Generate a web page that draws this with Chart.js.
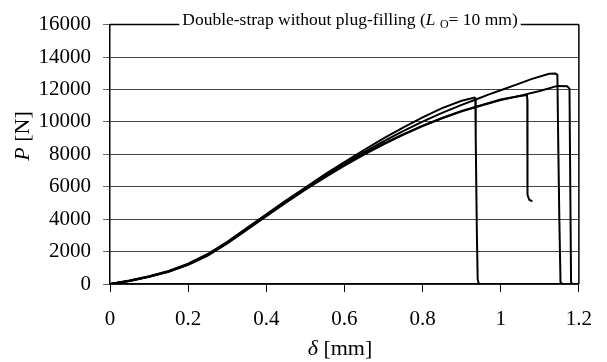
<!DOCTYPE html>
<html><head><meta charset="utf-8">
<script src="https://cdn.jsdelivr.net/npm/chart.js@4/dist/chart.umd.min.js"></script>
<style>html,body{margin:0;padding:0;background:#fff}</style>
</head><body>
<canvas id="c" width="607" height="362"></canvas>
<script>
const xTicks = [0, 0.2, 0.4, 0.6, 0.8, 1, 1.2];
const yTicks = [0, 2000, 4000, 6000, 8000, 10000, 12000, 14000, 16000];

// Specimen 1 (fails at ~0.94 mm)
const s1X = [0,0.05,0.1,0.15,0.2,0.25,0.3,0.35,0.4,0.45,0.5,0.55,0.6,0.65,0.7,0.75,0.8,0.85,0.9,0.933,0.935,0.936,0.939,0.941,0.944,0.952];
const s1Y = [0,220,480,800,1250,1850,2600,3450,4300,5150,5950,6760,7520,8260,8980,9650,10280,10850,11300,11500,11450,9000,3000,300,0,0];

// Specimen 2 (fails at ~1.15 mm)
const s2X = [0,0.05,0.1,0.15,0.2,0.25,0.3,0.35,0.4,0.45,0.5,0.55,0.6,0.65,0.7,0.75,0.8,0.85,0.9,0.933,0.97,1.0,1.04,1.08,1.124,1.14,1.145,1.147,1.15,1.153,1.158];
const s2Y = [0,200,460,780,1220,1800,2560,3400,4250,5100,5900,6680,7420,8120,8800,9430,10020,10560,11050,11350,11700,11950,12300,12650,12970,12980,12900,9000,4000,100,0];

// Specimen 3 (fails at ~1.18 mm)
const s3X = [0,0.05,0.1,0.15,0.2,0.25,0.3,0.35,0.4,0.45,0.5,0.55,0.6,0.65,0.7,0.75,0.8,0.85,0.9,0.95,1.0,1.05,1.1,1.145,1.17,1.176,1.178,1.18,1.184];
const s3Y = [0,180,440,760,1180,1750,2500,3330,4180,5020,5820,6580,7300,7980,8620,9200,9740,10220,10650,11000,11350,11620,11900,12220,12200,12050,6000,100,0];

// Specimen 4 (drops at ~1.07 mm to ~5100 N)
const s4X = [0,0.05,0.1,0.15,0.2,0.25,0.3,0.35,0.4,0.45,0.5,0.55,0.6,0.65,0.7,0.75,0.8,0.85,0.9,0.95,1.0,1.05,1.067,1.068,1.068,1.069,1.073,1.081];
const s4Y = [0,190,450,770,1200,1780,2520,3360,4200,5050,5850,6600,7330,8010,8650,9230,9760,10240,10670,11030,11380,11600,11660,11400,6000,5500,5200,5100];

const series = [[s1X,s1Y],[s2X,s2Y],[s3X,s3Y],[s4X,s4Y]];
const FAM = '"Liberation Serif", "Times New Roman", serif';

function drawParts(ctx, parts, x, y) {
  let cx = x;
  for (const p of parts) {
    ctx.font = p.font;
    ctx.fillText(p.t, cx, y + (p.dy || 0));
    cx += ctx.measureText(p.t).width;
  }
}
function partsWidth(ctx, parts) {
  let w = 0;
  for (const p of parts) { ctx.font = p.font; w += ctx.measureText(p.t).width; }
  return w;
}

const overlay = {
  id: 'overlay',
  afterDraw(chart) {
    const ctx = chart.ctx, a = chart.chartArea;
    ctx.save();
    ctx.strokeStyle = '#000';
    ctx.lineWidth = 1.5;
    ctx.beginPath();
    ctx.moveTo(a.left, a.top); ctx.lineTo(a.right, a.top);
    ctx.moveTo(a.right, a.top); ctx.lineTo(a.right, a.bottom);
    ctx.stroke();

    // Title on top border
    const tf = 17.5;
    const tparts = [
      {t: 'Double-strap without plug-filling (', font: tf + 'px ' + FAM},
      {t: 'L', font: 'italic ' + tf + 'px ' + FAM},
      {t: ' ', font: tf + 'px ' + FAM},
      {t: 'O', font: Math.round(tf*0.7) + 'px ' + FAM, dy: 3},
      {t: '= 10 mm)', font: tf + 'px ' + FAM}
    ];
    const tw = partsWidth(ctx, tparts);
    const tx = 350 - tw / 2;
    ctx.fillStyle = '#fff';
    ctx.fillRect(tx - 3, a.top - 10, tw + 6, 20);
    ctx.fillStyle = '#000';
    ctx.textBaseline = 'alphabetic';
    ctx.textAlign = 'left';
    drawParts(ctx, tparts, tx, 25);

    // X axis title
    const af = 22;
    const xparts = [
      {t: 'δ', font: 'italic ' + af + 'px ' + FAM},
      {t: ' [mm]', font: af + 'px ' + FAM}
    ];
    const xw = partsWidth(ctx, xparts);
    drawParts(ctx, xparts, 340 - xw / 2, 355);

    // Y axis title
    const yparts = [
      {t: 'P', font: 'italic ' + af + 'px ' + FAM},
      {t: ' [N]', font: af + 'px ' + FAM}
    ];
    const yw = partsWidth(ctx, yparts);
    ctx.translate(29, 136);
    ctx.rotate(-Math.PI / 2);
    drawParts(ctx, yparts, -yw / 2, 0);
    ctx.restore();
  }
};

new Chart(document.getElementById('c'), {
  type: 'scatter',
  data: {
    datasets: series.map(([xs, ys]) => ({
      data: xs.map((x, i) => ({x: x, y: ys[i]})),
      showLine: true, borderColor: '#000', backgroundColor: '#000',
      borderWidth: 2, pointRadius: 0, tension: 0, fill: false
    }))
  },
  options: {
    responsive: false, animation: false, events: [],
    layout: {padding: {top: 20, right: 25, left: 0, bottom: 0}},
    plugins: {legend: {display: false}, tooltip: {enabled: false}},
    scales: {
      x: {
        type: 'linear', min: 0, max: 1.2,
        afterBuildTicks: s => { s.ticks = xTicks.map(v => ({value: v})); },
        afterFit: s => { s.height = 78; },
        grid: {drawOnChartArea: false, drawTicks: true, tickLength: 8, color: '#000', lineWidth: 1},
        border: {color: '#000', width: 1.5},
        ticks: {color: '#000', font: {family: FAM, size: 21}, padding: 15, maxRotation: 0, autoSkip: false,
                callback: v => String(v)}
      },
      y: {
        min: 0, max: 16000,
        afterBuildTicks: s => { s.ticks = yTicks.map(v => ({value: v})); },
        afterFit: s => { s.width = 110; },
        grid: {color: '#444', lineWidth: 1, tickLength: 7, tickColor: '#666'},
        border: {color: '#000', width: 1.5},
        ticks: {color: '#000', font: {family: FAM, size: 21}, padding: 12, autoSkip: false,
                callback: v => String(v)}
      }
    }
  },
  plugins: [overlay]
});
</script>
</body></html>
